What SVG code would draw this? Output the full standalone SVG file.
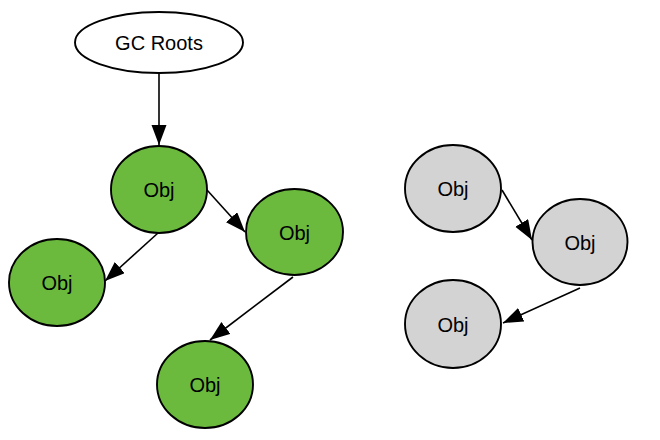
<svg xmlns="http://www.w3.org/2000/svg" width="660" height="440" viewBox="0 0 660 440">
<style>
.node ellipse{stroke:#000;stroke-width:1.9}
.live ellipse{fill:#6bba3e}
.dead ellipse{fill:#d3d3d3}
.root ellipse{fill:#fff}
text{font-family:"Liberation Sans",Arial,Helvetica,sans-serif;font-size:20px;fill:#000;text-anchor:middle}
.edge{stroke:#000;stroke-width:1.6;fill:none;marker-end:url(#ah)}
</style>
<defs>
<marker id="ah" markerUnits="userSpaceOnUse" markerWidth="22" markerHeight="16" refX="20" refY="7.5" orient="auto">
<path d="M0,0 L20,7.5 L0,15 Z" fill="#000"/>
</marker>
</defs>
<rect width="660" height="440" fill="#fff"/>
<g id="connectors">
<line class="edge" x1="159" y1="73" x2="159" y2="145"/>
<line class="edge" x1="207" y1="190" x2="245" y2="232"/>
<line class="edge" x1="158" y1="233" x2="105" y2="281"/>
<line class="edge" x1="293" y1="277" x2="210" y2="340"/>
<line class="edge" x1="502" y1="190" x2="532" y2="240"/>
<line class="edge" x1="580" y1="288" x2="503" y2="323"/>
</g>
<g id="gc-roots" class="node root">
<ellipse cx="159" cy="42.5" rx="84" ry="30.5"/>
<text x="159" y="49.5">GC Roots</text>
</g>
<g id="obj1" class="node live">
<ellipse cx="159" cy="189.5" rx="48" ry="43.5"/>
<text x="159" y="196.5">Obj</text>
</g>
<g id="obj2" class="node live">
<ellipse cx="294.5" cy="232" rx="48.5" ry="43"/>
<text x="294.5" y="239.5">Obj</text>
</g>
<g id="obj3" class="node live">
<ellipse cx="57" cy="282.5" rx="48" ry="43.5"/>
<text x="57" y="289.5">Obj</text>
</g>
<g id="obj4" class="node live">
<ellipse cx="205" cy="384.5" rx="48" ry="43.5"/>
<text x="205" y="391.5">Obj</text>
</g>
<g id="obj5" class="node dead">
<ellipse cx="453" cy="188.5" rx="48" ry="43.5"/>
<text x="453" y="195.5">Obj</text>
</g>
<g id="obj6" class="node dead">
<ellipse cx="580" cy="242" rx="47.5" ry="43"/>
<text x="580" y="249.5">Obj</text>
</g>
<g id="obj7" class="node dead">
<ellipse cx="453" cy="324" rx="48" ry="44"/>
<text x="453" y="331.5">Obj</text>
</g>
</svg>
